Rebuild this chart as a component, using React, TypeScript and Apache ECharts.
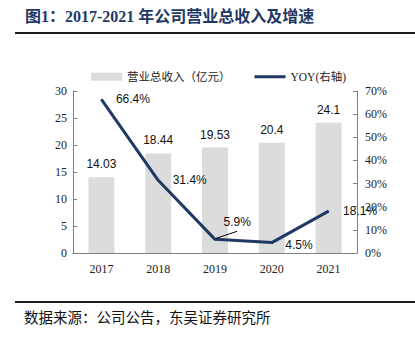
import React, { useEffect, useRef } from "react";
import * as echarts from "echarts";

const categories = ["2017", "2018", "2019", "2020", "2021"];
const revenue = [14.03, 18.44, 19.53, 20.4, 24.1];
const yoy = [66.4, 31.4, 5.9, 4.5, 18.1];
const revenueName = "营业总收入（亿元）";
const yoyName = "YOY(右轴)";
const titleText = "图1：2017-2021 年公司营业总收入及增速";
const sourceText = "数据来源：公司公告，东吴证券研究所";

const SERIF = "'Liberation Serif', 'Noto Sans CJK SC', serif";
const SANS = "'Liberation Sans', Arial, sans-serif";
const NAVY = "#1f3864";

export default function App() {
  const ref = useRef<HTMLDivElement>(null);
  useEffect(() => {
    if (!ref.current) return;
    const chart = echarts.init(ref.current, null, { renderer: "svg" });
    chart.setOption({
      animation: false,
      backgroundColor: "#ffffff",
      graphic: [
        {
          id: "title",
          type: "text",
          left: 25,
          top: 8,
          style: { text: titleText, font: "bold 16px " + SERIF, fill: NAVY },
        },
        {
          id: "topRule",
          type: "line",
          shape: { x1: 15, y1: 33, x2: 415, y2: 33 },
          style: { stroke: "#1a1a1a", lineWidth: 2 },
        },
        {
          id: "bottomRule",
          type: "line",
          shape: { x1: 15, y1: 302, x2: 415, y2: 302 },
          style: { stroke: "#1a1a1a", lineWidth: 2 },
        },
        {
          id: "source",
          type: "text",
          left: 24,
          top: 311,
          style: { text: sourceText, font: "14.5px " + SERIF, fill: "#111" },
        },
      ],
      legend: {
        left: 86,
        top: 66,
        itemWidth: 31,
        itemHeight: 8,
        itemGap: 24,
        textStyle: { fontFamily: SERIF, fontSize: 11.5, color: "#222" },
        data: [
          { name: revenueName, icon: "rect" },
          { name: yoyName, icon: "path://M0 0 H31 V3 H0 Z" },
        ],
      },
      grid: { left: 73, right: 58, top: 91, bottom: 84 },
      xAxis: {
        type: "category",
        data: categories,
        boundaryGap: true,
        axisLine: { lineStyle: { color: "#808080", width: 1 } },
        axisTick: { inside: true, length: 4, lineStyle: { color: "#808080" } },
        axisLabel: { fontFamily: SERIF, fontSize: 12, color: "#222", margin: 10 },
      },
      yAxis: [
        {
          type: "value",
          min: 0,
          max: 30,
          interval: 5,
          splitLine: { show: false },
          axisLine: { show: true, lineStyle: { color: "#808080" } },
          axisTick: { show: true, inside: true, length: 4, lineStyle: { color: "#808080" } },
          axisLabel: { fontFamily: SERIF, fontSize: 12, color: "#222", margin: 6 },
        },
        {
          type: "value",
          min: 0,
          max: 70,
          interval: 10,
          splitLine: { show: false },
          axisLine: { show: true, lineStyle: { color: "#808080" } },
          axisTick: { show: true, inside: true, length: 4, lineStyle: { color: "#808080" } },
          axisLabel: {
            fontFamily: SERIF,
            fontSize: 12,
            color: "#222",
            margin: 8,
            formatter: "{value}%",
          },
        },
      ],
      series: [
        {
          name: revenueName,
          type: "bar",
          data: revenue,
          barWidth: 26,
          itemStyle: { color: "#dcdcdc" },
          label: {
            show: true,
            position: "top",
            distance: 7,
            fontFamily: SANS,
            fontSize: 12,
            color: "#111",
          },
        },
        {
          name: yoyName,
          type: "line",
          yAxisIndex: 1,
          data: yoy,
          symbol: "circle",
          symbolSize: 1,
          itemStyle: { color: NAVY },
          lineStyle: { color: NAVY, width: 3 },
          label: {
            show: true,
            position: "right",
            distance: 14,
            fontFamily: SANS,
            fontSize: 12,
            color: "#111",
            formatter: (p: any) => Number(p.value).toFixed(1) + "%",
          },
          labelLayout: (p: any) => {
            if (p.dataIndex === 2) {
              return { dx: -6, dy: -17 };
            }
            if (p.dataIndex === 3) {
              return { dx: -1, dy: 2 };
            }
            return {};
          },
        },
      ],
    });
    const pt = chart.convertToPixel({ xAxisIndex: 0, yAxisIndex: 1 }, [
      categories[2],
      yoy[2],
    ]) as number[];
    if (pt && isFinite(pt[0]) && isFinite(pt[1])) {
      chart.setOption({
        graphic: [
          {
            id: "leader",
            type: "line",
            z: 10,
            shape: { x1: pt[0] + 1, y1: pt[1] - 1, x2: pt[0] + 22, y2: pt[1] - 8 },
            style: { stroke: "#000", lineWidth: 1 },
          },
        ],
      });
    }
    return () => chart.dispose();
  }, []);
  return (
    <div
      ref={ref}
      style={{ position: "fixed", left: 0, top: 0, width: 415, height: 337 }}
    />
  );
}
